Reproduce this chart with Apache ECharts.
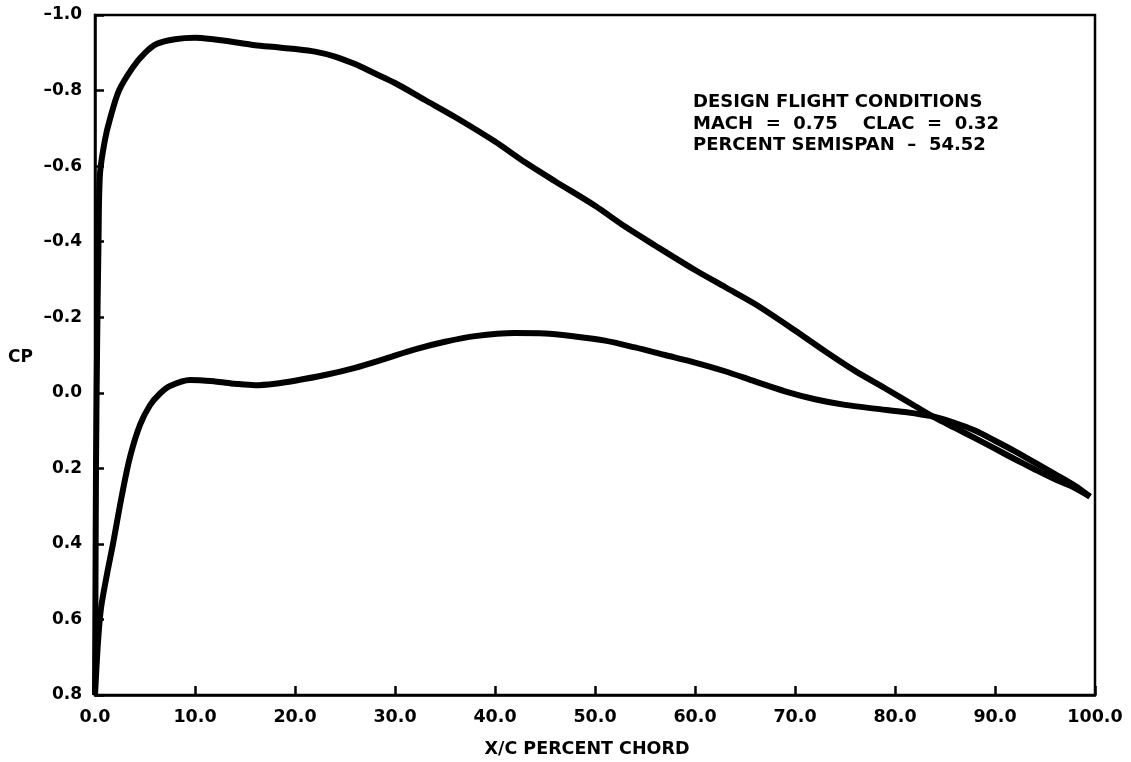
<!DOCTYPE html>
<html>
<head>
<meta charset="utf-8">
<script src="https://cdn.jsdelivr.net/npm/echarts@6/dist/echarts.min.js"></script>
<style>
  html, body { margin: 0; padding: 0; background: #fff; }
  #chart { width: 1131px; height: 762px; }
</style>
</head>
<body>
<div id="chart"></div>
<script>
// upper surface (suction side)
var xUpper = [0, 0.05, 0.1, 0.2, 0.35, 0.5, 1.0, 1.5, 2.4, 3.8, 5.0, 6.2, 8, 10, 12, 14, 16, 18, 20, 22, 24, 26, 28, 30, 33, 36, 40, 43, 46, 50, 53, 56, 60, 63, 66, 70, 73, 76, 79, 82, 84, 86, 88, 90, 92, 94, 96, 98, 99.5];
var cpUpper = [0.8, 0.5, 0.2, -0.1, -0.4, -0.58, -0.67, -0.725, -0.8, -0.862, -0.9, -0.924, -0.936, -0.94, -0.935, -0.928, -0.92, -0.915, -0.91, -0.903, -0.89, -0.87, -0.845, -0.82, -0.775, -0.73, -0.665, -0.61, -0.56, -0.495, -0.44, -0.39, -0.325, -0.28, -0.235, -0.165, -0.11, -0.058, -0.012, 0.035, 0.066, 0.093, 0.12, 0.148, 0.176, 0.203, 0.229, 0.252, 0.275];

// lower surface (pressure side)
var xLower = [0, 0.3, 0.6, 1.2, 1.8, 2.7, 3.5, 4.5, 5.5, 6.5, 7.5, 9.5, 12, 14, 16, 18, 20, 23, 26, 29, 32, 35, 38, 42, 45, 48, 51, 54, 57, 60, 63, 66, 69, 72, 75, 78, 81, 84, 86, 88, 90, 92, 94, 96, 98, 99.5];
var cpLower = [0.8, 0.66, 0.57, 0.48, 0.4, 0.27, 0.17, 0.085, 0.033, 0.002, -0.018, -0.034, -0.03, -0.024, -0.02, -0.024, -0.032, -0.047, -0.066, -0.09, -0.115, -0.135, -0.15, -0.158, -0.157, -0.149, -0.138, -0.12, -0.1, -0.08, -0.057, -0.03, -0.004, 0.017, 0.032, 0.042, 0.051, 0.064, 0.08, 0.1, 0.127, 0.155, 0.185, 0.215, 0.246, 0.275];

var annotation = ['DESIGN FLIGHT CONDITIONS', 'MACH  =  0.75    CLAC  =  0.32', 'PERCENT SEMISPAN  \u2013  54.52'];

function pairs(xs, ys) {
    var out = [];
    for (var i = 0; i < xs.length; i++) {
        out.push([xs[i], ys[i]]);
    }
    return out;
}

var font = '"DejaVu Sans", Arial, sans-serif';
var myChart = echarts.init(document.getElementById('chart'));
var option = {
    backgroundColor: '#fff',
    animation: false,
    grid: {
        left: 95, right: 36, top: 15, bottom: 67,
        show: true,
        borderColor: '#000',
        borderWidth: 2.5
    },
    xAxis: {
        type: 'value',
        min: 0, max: 100, interval: 10,
        axisLine: { onZero: false, lineStyle: { color: '#000', width: 2.5 } },
        axisTick: { inside: true, length: 9, lineStyle: { color: '#000', width: 2.5 } },
        splitLine: { show: false },
        axisLabel: {
            margin: 13,
            color: '#000', fontSize: 17.5, fontWeight: 'bold', fontFamily: font,
            formatter: function (v) { return v.toFixed(1); }
        }
    },
    yAxis: {
        type: 'value',
        inverse: true,
        min: -1.0, max: 0.8, interval: 0.2,
        axisLine: { onZero: false, lineStyle: { color: '#000', width: 2.5 } },
        axisTick: { inside: true, length: 9, lineStyle: { color: '#000', width: 2.5 } },
        splitLine: { show: false },
        axisLabel: {
            margin: 13,
            color: '#000', fontSize: 17, fontWeight: 'bold', fontFamily: font,
            formatter: function (v) {
                return (v < -1e-9 ? '\u2013' : '') + Math.abs(v).toFixed(1);
            }
        }
    },
    graphic: [
        {
            type: 'text', x: 8, y: 349,
            style: { text: 'CP', fill: '#000', font: 'bold 17px ' + font }
        },
        {
            type: 'text', x: 587, y: 740,
            style: { text: 'X/C PERCENT CHORD', fill: '#000', font: 'bold 17.5px ' + font, align: 'center' }
        },
        {
            type: 'text', x: 693, y: 92,
            style: { text: annotation.join('\n'), fill: '#000', font: 'bold 18px ' + font, lineHeight: 21.5 }
        }
    ],
    series: [
        {
            name: 'upper',
            type: 'line',
            smooth: 0.3,
            showSymbol: false,
            lineStyle: { color: '#000', width: 6 },
            data: pairs(xUpper, cpUpper)
        },
        {
            name: 'lower',
            type: 'line',
            smooth: 0.3,
            showSymbol: false,
            lineStyle: { color: '#000', width: 6 },
            data: pairs(xLower, cpLower)
        }
    ]
};
myChart.setOption(option);
</script>
</body>
</html>
